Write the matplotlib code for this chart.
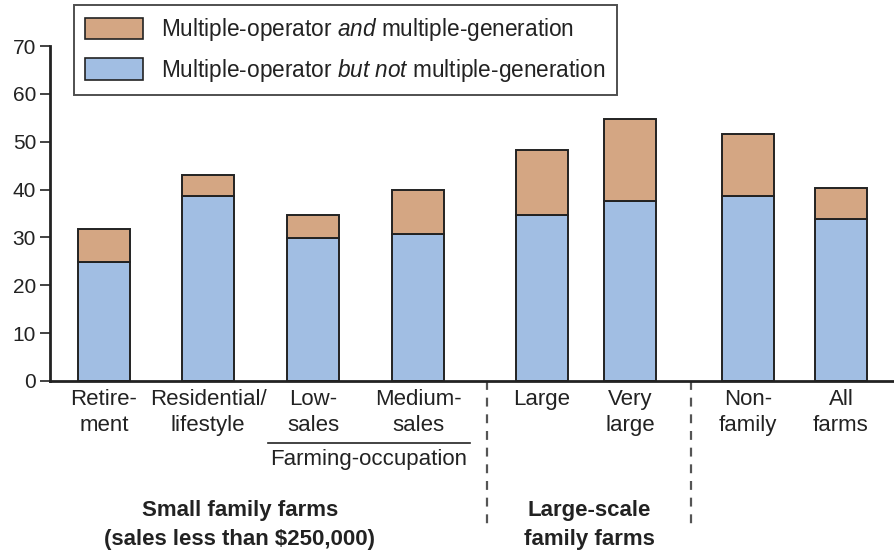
import matplotlib
matplotlib.use("Agg")
import matplotlib.pyplot as plt
from matplotlib.patches import Patch
from matplotlib.transforms import blended_transform_factory
from matplotlib.lines import Line2D

plt.rcParams['font.family'] = ['Liberation Sans', 'DejaVu Sans']
plt.rcParams['mathtext.fontset'] = 'custom'
plt.rcParams['mathtext.it'] = 'Liberation Sans:italic'
plt.rcParams['mathtext.rm'] = 'Liberation Sans'

categories = ["Retire-\nment", "Residential/\nlifestyle", "Low-\nsales", "Medium-\nsales",
              "Large", "Very\nlarge", "Non-\nfamily", "All\nfarms"]
not_multigen = [24.9, 38.7, 29.9, 30.7, 34.7, 37.6, 38.7, 33.8]
totals = [31.8, 43.0, 34.7, 39.9, 48.3, 54.7, 51.6, 40.3]
multigen = [t - b for t, b in zip(totals, not_multigen)]
legend_labels = ["Multiple-operator $\\it{and}$ multiple-generation",
                 "Multiple-operator $\\it{but\\ not}$ multiple-generation"]
yticks = [0, 10, 20, 30, 40, 50, 60, 70]

# layout (pixel-like x positions)
xpos = [104, 208, 313, 418, 542, 630, 748, 841]
bar_w = 52

W, H = 895, 554
fig = plt.figure(figsize=(W / 100, H / 100), dpi=100)
ax = fig.add_axes([50 / W, 1 - 381 / H, (W - 50) / W, (381 - 46) / H])

blue = "#A1BEE3"
orange = "#D4A683"
edge = "#222222"

ax.bar(xpos, not_multigen, width=bar_w, color=blue, edgecolor=edge, linewidth=1.4, zorder=2)
ax.bar(xpos, multigen, bottom=not_multigen, width=bar_w, color=orange, edgecolor=edge,
       linewidth=1.4, zorder=2)

ax.set_xlim(50, 895)
ax.set_ylim(0, 70)
ax.set_yticks(yticks)
ax.tick_params(axis='y', labelsize=15, length=7, width=1.2, direction='out', pad=3, colors='#222222')
ax.tick_params(axis='x', length=0, labelsize=16, pad=6, colors='#222222')
ax.set_xticks(xpos)
ax.set_xticklabels(categories, linespacing=1.3)
for s in ['top', 'right']:
    ax.spines[s].set_visible(False)
for s in ['left', 'bottom']:
    ax.spines[s].set_linewidth(2)
    ax.spines[s].set_color('#222222')

# group annotations below the axis
tr = blended_transform_factory(ax.transData, fig.transFigure)
def fy(py):
    return 1 - py / H

ax.add_line(Line2D([268, 470], [fy(443), fy(443)], transform=tr, color='#222222',
                   linewidth=1.2, clip_on=False))
ax.text(369, fy(459), "Farming-occupation", transform=tr, ha='center', va='center',
        fontsize=16, color='#222222')
ax.text(240, fy(525), "Small family farms\n(sales less than $250,000)", transform=tr,
        ha='center', va='center', fontsize=16, fontweight='bold', linespacing=1.5, color='#222222')
ax.text(589, fy(525), "Large-scale\nfamily farms", transform=tr,
        ha='center', va='center', fontsize=16, fontweight='bold', linespacing=1.5, color='#222222')
for xd in [487, 691]:
    ax.add_line(Line2D([xd, xd], [fy(381), fy(530)], transform=tr, color='#555555',
                       linewidth=1.6, linestyle=(0, (4, 3.5)), clip_on=False))

handles = [Patch(facecolor=orange, edgecolor=edge, linewidth=1.2),
           Patch(facecolor=blue, edgecolor=edge, linewidth=1.2)]
leg = fig.legend(handles, legend_labels, loc='upper left',
                 bbox_to_anchor=(74 / W, 1 - 5 / H), fontsize=16.3, frameon=True,
                 fancybox=False, edgecolor='#222222', handlelength=2.55, handleheight=1.1,
                 labelspacing=0.6, handletextpad=0.8, borderpad=0.5, borderaxespad=0)
leg.get_frame().set_linewidth(1.4)
for t in leg.get_texts():
    t.set_color('#222222')

fig.savefig("out.png", dpi=100)
